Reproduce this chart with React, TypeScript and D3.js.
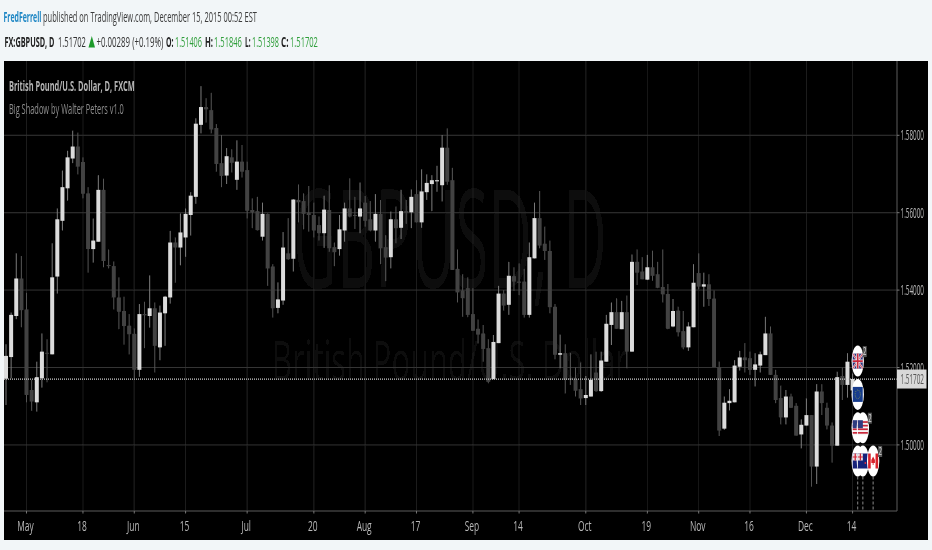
import * as d3 from 'd3';

// daily GBPUSD candles, May - Dec 14 2015
const opens = [
  1.5171, 1.5227, 1.5333, 1.5430, 1.5350, 1.5142, 1.5110, 1.5172, 1.5238, 1.5234,
  1.5435, 1.5579, 1.5663, 1.5740, 1.5771, 1.5731, 1.5650, 1.5506, 1.5525, 1.5659,
  1.5465, 1.5462, 1.5381, 1.5346, 1.5308, 1.5287, 1.5194, 1.5338, 1.5333, 1.5353,
  1.5252, 1.5340, 1.5381, 1.5523, 1.5510, 1.5536, 1.5594, 1.5641, 1.5827, 1.5873,
  1.5865, 1.5819, 1.5728, 1.5696, 1.5743, 1.5685, 1.5732, 1.5710, 1.5607, 1.5604,
  1.5538, 1.5597, 1.5461, 1.5354, 1.5373, 1.5495, 1.5481, 1.5633, 1.5630, 1.5600,
  1.5594, 1.5568, 1.5547, 1.5607, 1.5511, 1.5506, 1.5554, 1.5611, 1.5594, 1.5590,
  1.5626, 1.5583, 1.5554, 1.5597, 1.5511, 1.5485, 1.5583, 1.5561, 1.5604, 1.5601,
  1.5648, 1.5575, 1.5653, 1.5674, 1.5681, 1.5671, 1.5768, 1.5684, 1.5455, 1.5399,
  1.5405, 1.5338, 1.5300, 1.5288, 1.5250, 1.5170, 1.5263, 1.5391, 1.5362, 1.5436,
  1.5422, 1.5422, 1.5336, 1.5482, 1.5586, 1.5520, 1.5501, 1.5357, 1.5233, 1.5237,
  1.5172, 1.5169, 1.5144, 1.5121, 1.5125, 1.5187, 1.5139, 1.5215, 1.5310, 1.5343,
  1.5299, 1.5343, 1.5241, 1.5473, 1.5448, 1.5427, 1.5459, 1.5441, 1.5408, 1.5390,
  1.5306, 1.5347, 1.5294, 1.5252, 1.5304, 1.5444, 1.5409, 1.5415, 1.5378, 1.5201,
  1.5042, 1.5108, 1.5110, 1.5202, 1.5226, 1.5224, 1.5194, 1.5205, 1.5232, 1.5288,
  1.5181, 1.5121, 1.5071, 1.5125, 1.5101, 1.5027, 1.5050, 1.5077, 1.4944, 1.5138,
  1.5096, 1.5050, 1.4998, 1.5178, 1.5155, 1.51406,
];
const closes = [
  1.5230, 1.5336, 1.5430, 1.5348, 1.5129, 1.5112, 1.5175, 1.5241, 1.5237, 1.5433,
  1.5583, 1.5666, 1.5743, 1.5771, 1.5719, 1.5649, 1.5506, 1.5528, 1.5659, 1.5475,
  1.5462, 1.5381, 1.5344, 1.5307, 1.5286, 1.5194, 1.5338, 1.5335, 1.5353, 1.5256,
  1.5342, 1.5383, 1.5523, 1.5510, 1.5549, 1.5597, 1.5644, 1.5830, 1.5873, 1.5867,
  1.5815, 1.5726, 1.5695, 1.5746, 1.5729, 1.5732, 1.5706, 1.5605, 1.5601, 1.5555,
  1.5597, 1.5456, 1.5353, 1.5376, 1.5510, 1.5480, 1.5634, 1.5627, 1.5597, 1.5594,
  1.5554, 1.5547, 1.5608, 1.5508, 1.5498, 1.5557, 1.5611, 1.5590, 1.5592, 1.5611,
  1.5579, 1.5554, 1.5597, 1.5508, 1.5484, 1.5583, 1.5560, 1.5604, 1.5600, 1.5641,
  1.5575, 1.5655, 1.5677, 1.5684, 1.5684, 1.5768, 1.5680, 1.5452, 1.5394, 1.5379,
  1.5336, 1.5295, 1.5285, 1.5248, 1.5163, 1.5266, 1.5391, 1.5360, 1.5437, 1.5422,
  1.5419, 1.5336, 1.5485, 1.5586, 1.5515, 1.5501, 1.5356, 1.5233, 1.5237, 1.5168,
  1.5169, 1.5140, 1.5120, 1.5129, 1.5168, 1.5139, 1.5218, 1.5313, 1.5343, 1.5300,
  1.5343, 1.5241, 1.5473, 1.5445, 1.5428, 1.5459, 1.5437, 1.5406, 1.5389, 1.5300,
  1.5346, 1.5291, 1.5252, 1.5306, 1.5419, 1.5409, 1.5415, 1.5377, 1.5201, 1.5037,
  1.5109, 1.5114, 1.5205, 1.5226, 1.5219, 1.5194, 1.5208, 1.5234, 1.5288, 1.5181,
  1.5116, 1.5071, 1.5125, 1.5096, 1.5024, 1.5052, 1.5077, 1.4944, 1.5138, 1.5108,
  1.5050, 1.4998, 1.5175, 1.5155, 1.5215, 1.51702,
];
const highs = [
  1.5260, 1.5342, 1.5495, 1.5488, 1.5393, 1.5168, 1.5215, 1.5288, 1.5273, 1.5521,
  1.5611, 1.5709, 1.5760, 1.5812, 1.5807, 1.5743, 1.5666, 1.5585, 1.5697, 1.5688,
  1.5505, 1.5474, 1.5433, 1.5383, 1.5338, 1.5301, 1.5364, 1.5370, 1.5438, 1.5368,
  1.5360, 1.5385, 1.5553, 1.5536, 1.5598, 1.5611, 1.5653, 1.5844, 1.5927, 1.5896,
  1.5910, 1.5829, 1.5801, 1.5767, 1.5764, 1.5787, 1.5775, 1.5732, 1.5637, 1.5641,
  1.5626, 1.5598, 1.5467, 1.5420, 1.5550, 1.5586, 1.5635, 1.5673, 1.5650, 1.5669,
  1.5626, 1.5590, 1.5644, 1.5671, 1.5523, 1.5594, 1.5626, 1.5689, 1.5641, 1.5678,
  1.5643, 1.5630, 1.5648, 1.5633, 1.5542, 1.5603, 1.5616, 1.5659, 1.5633, 1.5660,
  1.5684, 1.5712, 1.5699, 1.5697, 1.5721, 1.5801, 1.5818, 1.5716, 1.5505, 1.5441,
  1.5433, 1.5405, 1.5324, 1.5310, 1.5273, 1.5284, 1.5411, 1.5400, 1.5473, 1.5459,
  1.5469, 1.5455, 1.5523, 1.5626, 1.5656, 1.5564, 1.5528, 1.5364, 1.5285, 1.5260,
  1.5238, 1.5200, 1.5213, 1.5178, 1.5234, 1.5241, 1.5241, 1.5336, 1.5368, 1.5379,
  1.5372, 1.5386, 1.5492, 1.5505, 1.5485, 1.5491, 1.5502, 1.5473, 1.5505, 1.5416,
  1.5377, 1.5357, 1.5346, 1.5317, 1.5467, 1.5495, 1.5445, 1.5441, 1.5399, 1.5215,
  1.5125, 1.5144, 1.5219, 1.5243, 1.5263, 1.5241, 1.5237, 1.5241, 1.5331, 1.5306,
  1.5194, 1.5153, 1.5142, 1.5132, 1.5108, 1.5066, 1.5120, 1.5077, 1.5157, 1.5157,
  1.5109, 1.5058, 1.5189, 1.5200, 1.5237, 1.51846,
];
const lows = [
  1.5103, 1.5172, 1.5325, 1.5304, 1.5110, 1.5088, 1.5086, 1.5148, 1.5162, 1.5234,
  1.5391, 1.5554, 1.5631, 1.5728, 1.5699, 1.5637, 1.5445, 1.5471, 1.5525, 1.5459,
  1.5456, 1.5350, 1.5299, 1.5259, 1.5234, 1.5172, 1.5176, 1.5250, 1.5303, 1.5187,
  1.5219, 1.5256, 1.5365, 1.5419, 1.5464, 1.5486, 1.5541, 1.5623, 1.5805, 1.5833,
  1.5805, 1.5706, 1.5666, 1.5674, 1.5704, 1.5659, 1.5691, 1.5585, 1.5560, 1.5554,
  1.5528, 1.5411, 1.5329, 1.5340, 1.5362, 1.5478, 1.5448, 1.5575, 1.5557, 1.5551,
  1.5536, 1.5528, 1.5509, 1.5499, 1.5462, 1.5489, 1.5525, 1.5588, 1.5558, 1.5547,
  1.5564, 1.5552, 1.5525, 1.5467, 1.5423, 1.5456, 1.5521, 1.5532, 1.5571, 1.5560,
  1.5575, 1.5561, 1.5633, 1.5604, 1.5654, 1.5629, 1.5672, 1.5452, 1.5368, 1.5331,
  1.5330, 1.5295, 1.5262, 1.5215, 1.5159, 1.5170, 1.5263, 1.5347, 1.5336, 1.5398,
  1.5387, 1.5329, 1.5329, 1.5482, 1.5508, 1.5478, 1.5340, 1.5221, 1.5198, 1.5133,
  1.5155, 1.5125, 1.5103, 1.5103, 1.5125, 1.5137, 1.5137, 1.5215, 1.5258, 1.5300,
  1.5299, 1.5198, 1.5241, 1.5413, 1.5428, 1.5426, 1.5424, 1.5405, 1.5368, 1.5299,
  1.5304, 1.5280, 1.5247, 1.5243, 1.5304, 1.5402, 1.5357, 1.5359, 1.5201, 1.5023,
  1.5039, 1.5089, 1.5110, 1.5192, 1.5187, 1.5181, 1.5151, 1.5187, 1.5232, 1.5181,
  1.5108, 1.5053, 1.5053, 1.5095, 1.5024, 1.4991, 1.5050, 1.4892, 1.4899, 1.5077,
  1.5040, 1.4954, 1.4998, 1.5116, 1.5122, 1.51398,
];

const priceTicks = [1.58, 1.56, 1.54, 1.52, 1.5];
const lastPrice = 1.51702;

// bar number -> label on the time axis
const timeTickBars = [4, 15, 25, 35, 47, 60, 70, 80, 91, 100, 113, 125, 135, 145, 156, 165];
const timeTickLabels = ['May', '18', 'Jun', '15', 'Jul', '20', 'Aug', '17', 'Sep', '14', 'Oct', '19', 'Nov', '16', 'Dec', '14'];

// economic calendar pins on the right side
const eventFlags = ['GB', 'EU', 'US', 'US', 'AU', 'NZ', 'CA'];
const eventBars = [166, 166, 166, 167, 166, 167, 169];
const eventRows = [3, 2, 1, 1, 0, 0, 0];
const eventCounts = [2, 0, 0, 2, 0, 0, 2];

const WIDTH = 932;
const HEIGHT = 550;
const LEFT = 4;
const TOP = 61;
const AXIS_X = 897;
const AXIS_Y = 511;
const RIGHT = 928;
const BOTTOM = 540;

const x = d3.scaleLinear().domain([0, 165]).range([6, 852.6]);
const y = d3.scaleLinear().domain([1.5, 1.58]).range([444.9, 135.3]);

const pinY = (row: number) => 461 - row * 33.3;

// the screenshot is squeezed sideways, so text is scaled to the width it has there
function Txt({ x, y, w, sx, size = 12, fill = '#333', bold = false, anchor = 'start', children }: any) {
  return (
    <text
      ref={node => {
        if (!node) return;
        const scale = w ? w / node.getComputedTextLength() : sx || 1;
        node.setAttribute('transform', `translate(${x},${y}) scale(${scale},1)`);
      }}
      fontSize={size}
      fill={fill}
      fontWeight={bold ? 700 : 400}
      textAnchor={anchor}
    >
      {children}
    </text>
  );
}

function Flag({ code }: { code: string }) {
  // drawn around 0,0, about 10 x 15
  const X = -5;
  const Y = -7.5;
  const W = 10;
  const H = 15;
  if (code === 'GB') {
    return (
      <g>
        <rect x={X} y={Y} width={W} height={H} fill="#2a2f7a" />
        <path d={`M${X},${Y}L${X + W},${Y + H}M${X + W},${Y}L${X},${Y + H}`} stroke="#e8d8e0" strokeWidth={2} />
        <path d={`M${X},${Y}L${X + W},${Y + H}M${X + W},${Y}L${X},${Y + H}`} stroke="#c9283e" strokeWidth={0.8} />
        <path d={`M0,${Y}V${Y + H}M${X},0H${X + W}`} stroke="#eee" strokeWidth={3} />
        <path d={`M0,${Y}V${Y + H}M${X},0H${X + W}`} stroke="#c9283e" strokeWidth={1.6} />
      </g>
    );
  }
  if (code === 'EU') {
    return (
      <g>
        <rect x={X} y={Y} width={W} height={H} fill="#123a8c" />
        <ellipse cx={0} cy={0} rx={2.6} ry={4.4} fill="none" stroke="#8f9a50" strokeWidth={0.9} strokeDasharray="1 1.2" />
      </g>
    );
  }
  if (code === 'US') {
    return (
      <g>
        <rect x={X} y={Y} width={W} height={H} fill="#f4f4f4" />
        {d3.range(4).map(i => (
          <rect key={i} x={X} y={Y + 1 + i * 3.6} width={W} height={1.7} fill="#c8283a" />
        ))}
        <rect x={X} y={Y} width={5} height={8} fill="#2f3a80" />
      </g>
    );
  }
  if (code === 'CA') {
    return (
      <g>
        <rect x={X} y={Y} width={W} height={H} fill="#fff" />
        <rect x={X} y={Y} width={2.6} height={H} fill="#d8202c" />
        <rect x={X + W - 2.6} y={Y} width={2.6} height={H} fill="#d8202c" />
        <path d="M0,-4.5L1.8,-1L1.8,2L0.4,2L0.4,4L-0.4,4L-0.4,2L-1.8,2L-1.8,-1Z" fill="#d8202c" />
      </g>
    );
  }
  // AU and NZ look nearly the same at this size
  return (
    <g>
      <rect x={X} y={Y} width={W} height={H} fill="#12207a" />
      <rect x={X} y={Y} width={W / 2} height={7} fill="#e8e0e4" />
      <path d={`M${X + 2.5},${Y}v7M${X},${Y + 3.5}h5`} stroke="#d02030" strokeWidth={1.2} />
      {code === 'NZ' && <circle cx={2.5} cy={2} r={0.9} fill="#e03040" />}
      {code === 'AU' && <circle cx={2.5} cy={2} r={0.9} fill="#eee" />}
    </g>
  );
}

export default function App() {
  const bars = d3.range(opens.length);
  const bodyW = 4;
  return (
    <svg
      width={WIDTH}
      height={HEIGHT}
      style={{ position: 'fixed', left: 0, top: 0, background: '#f2f6f8', fontFamily: '"Open Sans", sans-serif' }}
    >
      <defs>
        <filter id="soft" x="0" y="0" width="100%" height="100%">
          <feGaussianBlur stdDeviation="0.5" />
        </filter>
        <clipPath id="plot">
          <rect x={LEFT} y={TOP} width={AXIS_X - LEFT} height={AXIS_Y - TOP} />
        </clipPath>
        <clipPath id="pin">
          <ellipse cx={0} cy={0} rx={6.2} ry={15.5} />
        </clipPath>
      </defs>

      <g filter="url(#soft)">
        {/* header */}
        <Txt x={3.5} y={22} w={38} size={15} fill="#1d86c4" bold>FredFerrell</Txt>
        <Txt x={43} y={22} w={214} size={15} fill="#3a3a3a">published on TradingView.com, December 15, 2015 00:52 EST</Txt>
        <Txt x={4.5} y={47} w={50} size={14.5} fill="#222" bold>FX:GBPUSD, D</Txt>
        <Txt x={58} y={47} w={28} size={14.5} fill="#333">1.51702</Txt>
        <path d="M88.5,47.5L91.8,36L95,47.5Z" fill="#1c9a2c" />
        <Txt x={96.5} y={47} w={67} size={14.5} fill="#333">+0.00289 (+0.19%)</Txt>
        <Txt x={166} y={47} w={7.5} size={14.5} fill="#222" bold>O:</Txt>
        <Txt x={175} y={47} w={27} size={14.5} fill="#2f9e3a">1.51406</Txt>
        <Txt x={205} y={47} w={8} size={14.5} fill="#222" bold>H:</Txt>
        <Txt x={214} y={47} w={28} size={14.5} fill="#2f9e3a">1.51846</Txt>
        <Txt x={245} y={47} w={5.5} size={14.5} fill="#222" bold>L:</Txt>
        <Txt x={252} y={47} w={27} size={14.5} fill="#2f9e3a">1.51398</Txt>
        <Txt x={281} y={47} w={7.5} size={14.5} fill="#222" bold>C:</Txt>
        <Txt x={290} y={47} w={28} size={14.5} fill="#2f9e3a">1.51702</Txt>

        {/* chart panel */}
        <rect x={LEFT} y={TOP} width={RIGHT - LEFT} height={BOTTOM - TOP} fill="#000" />

        {/* watermark */}
        <Txt x={450} y={288} w={314} size={138} fill="#0c0c0c" anchor="middle">GBPUSD, D</Txt>
        <Txt x={450} y={380} w={356} size={54} fill="#0c0c0c" anchor="middle">British Pound/U.S. Dollar</Txt>

        {/* grid */}
        {timeTickBars.map(b => (
          <line key={b} x1={x(b)} x2={x(b)} y1={TOP} y2={AXIS_Y} stroke="#1e1e1e" />
        ))}
        {priceTicks.map(p => (
          <line key={p} x1={LEFT} x2={AXIS_X} y1={y(p)} y2={y(p)} stroke="#343434" />
        ))}

        <Txt x={9} y={90.5} w={126} size={14} fill="#b4b4b4" bold>British Pound/U.S. Dollar, D, FXCM</Txt>
        <Txt x={9} y={113.5} w={115} size={14} fill="#8e8e8e">Big Shadow by Walter Peters v1.0</Txt>

        {/* candles */}
        <g clipPath="url(#plot)">
          {bars.map(i => {
            const up = closes[i] >= opens[i];
            const top = y(Math.max(opens[i], closes[i]));
            const bottom = y(Math.min(opens[i], closes[i]));
            return (
              <g key={i}>
                <line x1={x(i)} x2={x(i)} y1={y(highs[i])} y2={y(lows[i])} stroke={up ? '#7c7c7c' : '#565656'} />
                <rect
                  x={x(i) - bodyW / 2}
                  y={top}
                  width={bodyW}
                  height={Math.max(bottom - top, 1)}
                  fill={up ? '#dcdcdc' : '#434343'}
                />
              </g>
            );
          })}
        </g>

        {/* last price line */}
        <line
          x1={LEFT}
          x2={AXIS_X}
          y1={y(lastPrice)}
          y2={y(lastPrice)}
          stroke="#d0d0d0"
          strokeWidth={1.3}
          strokeDasharray="1 1"
        />

        {/* calendar pins */}
        {eventFlags.map((code, i) => (
          <g key={i} transform={`translate(${x(eventBars[i])},${pinY(eventRows[i])})`}>
            {eventRows[i] === 0 && (
              <line x1={0} x2={0} y1={15.5} y2={AXIS_Y - pinY(0)} stroke="#8a8a8a" strokeDasharray="3 2" />
            )}
            <ellipse cx={0} cy={0} rx={6.2} ry={15.5} fill="#fff" />
            <g clipPath="url(#pin)">
              <Flag code={code} />
            </g>
            {eventCounts[i] > 0 && (
              <g>
                <rect x={5} y={-15} width={4} height={11} fill="#555" />
                <Txt x={7} y={-6} sx={0.6} size={10} fill="#ddd" anchor="middle">{eventCounts[i]}</Txt>
              </g>
            )}
          </g>
        ))}

        {/* axes */}
        <path d={`M${LEFT},${AXIS_Y}H${AXIS_X}V${TOP}`} fill="none" stroke="#5a5a5a" />
        {priceTicks.map(p => (
          <g key={p}>
            <line x1={AXIS_X} x2={AXIS_X + 2.5} y1={y(p)} y2={y(p)} stroke="#777" />
            <Txt x={900.5} y={y(p) + 5} w={23.5} size={14} fill="#b8b8b8">{p.toFixed(5)}</Txt>
          </g>
        ))}
        <rect x={AXIS_X} y={y(lastPrice) - 9.5} width={29.5} height={19} fill="#d8d8d8" />
        <Txt x={900.5} y={y(lastPrice) + 5} w={23.5} size={14} fill="#555">{lastPrice.toFixed(5)}</Txt>
        {timeTickBars.map((b, i) => (
          <g key={i}>
            <line x1={x(b)} x2={x(b)} y1={AXIS_Y} y2={AXIS_Y + 2.5} stroke="#777" />
            <Txt x={x(b) - 1} y={530.5} sx={0.58} size={14.5} fill="#b8b8b8" anchor="middle">{timeTickLabels[i]}</Txt>
          </g>
        ))}
      </g>
    </svg>
  );
}
